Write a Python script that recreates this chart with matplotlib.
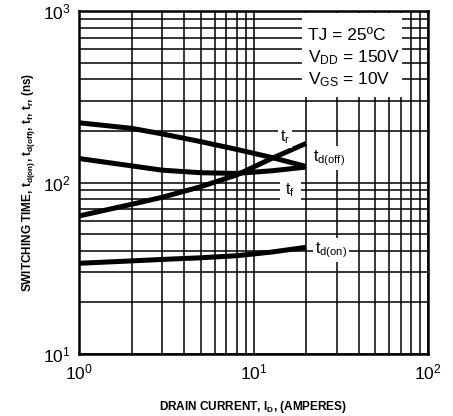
import matplotlib
matplotlib.use("Agg")
import matplotlib.pyplot as plt
import numpy as np
from matplotlib.patches import Rectangle
from matplotlib.ticker import LogLocator, NullFormatter

plt.rcParams['font.family'] = ['Liberation Sans', 'DejaVu Sans']
plt.rcParams['mathtext.fontset'] = 'custom'
plt.rcParams['mathtext.rm'] = 'Liberation Sans'
plt.rcParams['mathtext.it'] = 'Liberation Sans'
plt.rcParams['mathtext.bf'] = 'Liberation Sans:bold'

# Drain current (A)
i_d = [1, 2, 3, 5, 8, 12.7, 20]
# Switching times (ns)
t_doff = [223, 207, 192, 173, 156, 140, 124]
t_f = [138, 125, 118, 114, 113, 117, 123]
t_r = [63.8, 74.6, 82, 94.6, 110.6, 138, 169]
t_don = [33.8, 34.9, 35.6, 36.4, 37.4, 39.3, 41.9]

x_ticks = [1, 10, 100]
y_ticks = [10, 100, 1000]

fig = plt.figure(figsize=(4.53, 4.16), dpi=100)
ax = fig.add_axes([79/453, 1-354/416, 349/453, 343/416])
ax.set_xscale('log')
ax.set_yscale('log')
ax.set_xlim(1, 100)
ax.set_ylim(10, 1000)
ax.set_axisbelow(True)

ax.xaxis.set_minor_locator(LogLocator(base=10, subs=np.arange(2, 10)))
ax.yaxis.set_minor_locator(LogLocator(base=10, subs=np.arange(2, 10)))
ax.xaxis.set_minor_formatter(NullFormatter())
ax.yaxis.set_minor_formatter(NullFormatter())
ax.set_xticks(x_ticks)
ax.set_yticks(y_ticks)
ax.grid(True, which='both', color='black', lw=1.1)
ax.tick_params(which='both', length=0, labelsize=12.5, pad=6)
for s in ax.spines.values():
    s.set_linewidth(1.8)

# White area behind the test conditions
ax.add_patch(Rectangle((0.64, 0.75), 0.285, 0.245, transform=ax.transAxes,
                       facecolor='white', edgecolor='none', zorder=1))

lw = 3.6
for series in (t_doff, t_f, t_r, t_don):
    ax.plot(i_d, series, color='black', lw=lw, zorder=3,
            solid_capstyle='butt', solid_joinstyle='round')

bb = dict(facecolor='white', edgecolor='none', pad=1.5)
ax.text(15.2, 184, r'$\mathrm{t_r}$', fontsize=11.5, ha='center', va='center', bbox=bb, zorder=4)
ax.text(21.9, 139, r'$\mathrm{t_{d(off)}}$', fontsize=11.5, ha='left', va='center', bbox=bb, zorder=4)
ax.text(16.2, 90.4, r'$\mathrm{t_f}$', fontsize=11.5, ha='center', va='center',
        bbox=dict(facecolor='white', edgecolor='none', pad=4), zorder=4)
ax.text(22.5, 40.4, r'$\mathrm{t_{d(on)}}$', fontsize=11.5, ha='left', va='center', bbox=bb, zorder=4)

ax.text(0.656, 0.93, 'TJ = 25ºC', fontsize=12.5, transform=ax.transAxes,
        va='center', zorder=4)
ax.text(0.656, 0.863, r'V$\mathrm{_{DD}}$ = 150V', fontsize=12.5,
        transform=ax.transAxes, va='center', zorder=4)
ax.text(0.656, 0.799, r'V$\mathrm{_{GS}}$ = 10V', fontsize=12.5,
        transform=ax.transAxes, va='center', zorder=4)

ax.set_xlabel(r'DRAIN CURRENT, I$\mathbf{_D}$, (AMPERES)', fontsize=8.5,
              fontweight='bold', labelpad=12)
ax.set_ylabel(r'SWITCHING TIME, t$\mathbf{_{d(on)}}$, t$\mathbf{_{d(off)}}$, t$\mathbf{_f}$, t$\mathbf{_r}$, (ns)',
              fontsize=8.5, fontweight='bold', labelpad=4)

fig.savefig('out.png', dpi=100, facecolor='white')
